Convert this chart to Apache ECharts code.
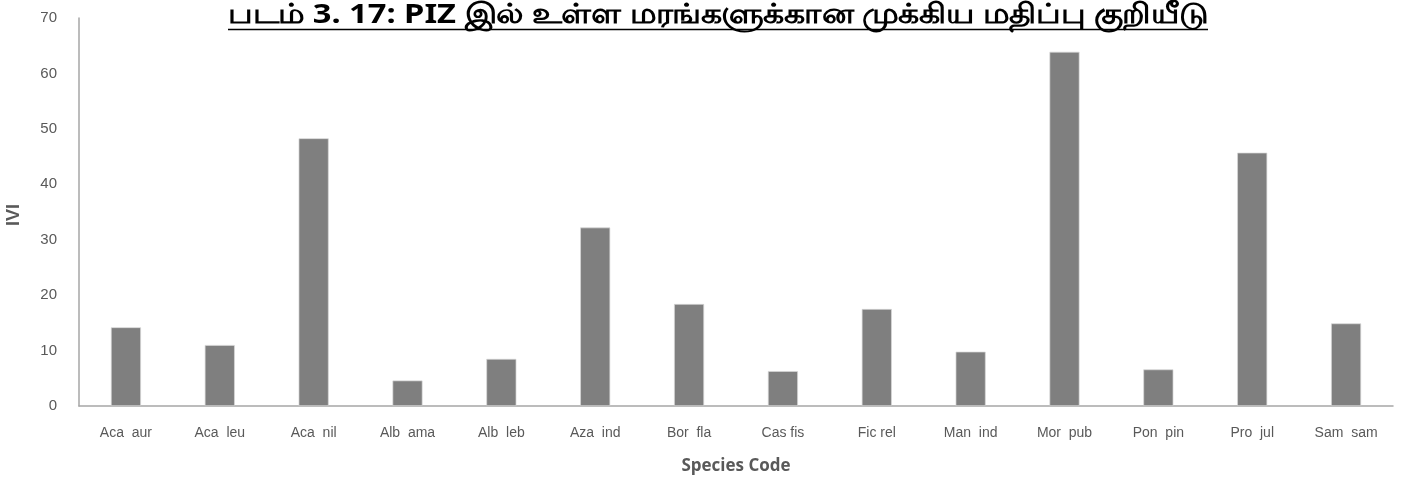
<!DOCTYPE html>
<html>
<head>
<meta charset="utf-8">
<script src="https://cdn.jsdelivr.net/npm/echarts@6/dist/echarts.min.js"></script>
<style>
html,body{margin:0;padding:0;background:#fff;}
#chart{width:1403px;height:483px;}
</style>
</head>
<body>
<div id="chart"></div>
<script>
const titleText = 'படம் 3. 17: PIZ இல் உள்ள மரங்களுக்கான முக்கிய மதிப்பு குறியீடு';
const categories = ['Aca  aur','Aca  leu','Aca  nil','Alb  ama','Alb  leb','Aza  ind','Bor  fla','Cas fis','Fic rel','Man  ind','Mor  pub','Pon  pin','Pro  jul','Sam  sam'];
const iviValues = [14.2, 11.0, 48.3, 4.6, 8.5, 32.2, 18.4, 6.3, 17.5, 9.8, 63.9, 6.6, 45.7, 14.9];
const yTicks = {min: 0, max: 70, interval: 10};
const xAxisName = 'Species Code';
const yAxisName = 'IVI';

const font = '"Liberation Sans", "DejaVu Sans", sans-serif';
const titleFont = '"Noto Sans", "DejaVu Sans", sans-serif';
const titleSize = 24;
const titleCenter = 718, titleTargetWidth = 980;

// measure title to stretch it horizontally to the reference width
const cv = document.createElement('canvas').getContext('2d');
cv.font = 'bold ' + titleSize + 'px ' + titleFont;
const measured = cv.measureText(titleText).width || titleTargetWidth;
const sx = titleTargetWidth / measured;

const chart = echarts.init(document.getElementById('chart'), null, {renderer: 'canvas'});
chart.setOption({
  animation: false,
  backgroundColor: '#ffffff',
  graphic: [
    {
      type: 'text', x: titleCenter, y: 15, scaleX: sx, scaleY: 1.15, z: 10,
      style: {text: titleText, fill: '#000000', font: 'bold ' + titleSize + 'px ' + titleFont, textAlign: 'center', textVerticalAlign: 'middle'}
    },
    {
      type: 'line', z: 10,
      shape: {x1: titleCenter - titleTargetWidth / 2, y1: 29.5, x2: titleCenter + titleTargetWidth / 2, y2: 29.5},
      style: {stroke: '#000000', lineWidth: 1.5}
    }
  ],
  grid: {left: 79, right: 10, top: 18, bottom: 77, containLabel: false, outerBoundsMode: 'none'},
  xAxis: {
    type: 'category',
    data: categories,
    name: xAxisName,
    nameLocation: 'middle',
    nameGap: 52,
    nameTextStyle: {fontSize: 17, fontWeight: 'bold', color: '#595959', fontFamily: '"Open Sans", sans-serif'},
    axisLine: {lineStyle: {color: '#a6a6a6', width: 1.5}},
    axisTick: {show: false},
    axisLabel: {color: '#595959', fontSize: 14, margin: 20, fontFamily: font, interval: 0}
  },
  yAxis: {
    type: 'value',
    min: yTicks.min, max: yTicks.max, interval: yTicks.interval,
    name: yAxisName,
    nameLocation: 'middle',
    nameGap: 56,
    nameRotate: 90,
    nameTextStyle: {fontSize: 18, fontWeight: 'bold', color: '#595959', fontFamily: font, padding: [0, 6, 0, 0]},
    axisLine: {show: true, lineStyle: {color: '#a6a6a6', width: 1.5}},
    axisTick: {show: false},
    splitLine: {show: false},
    axisLabel: {color: '#595959', fontSize: 15, margin: 22, fontFamily: font}
  },
  series: [{
    type: 'bar',
    data: iviValues,
    barWidth: '32%',
    itemStyle: {color: '#7f7f7f', borderColor: '#d9d9d9', borderWidth: 0.7}
  }]
});
</script>
</body>
</html>
